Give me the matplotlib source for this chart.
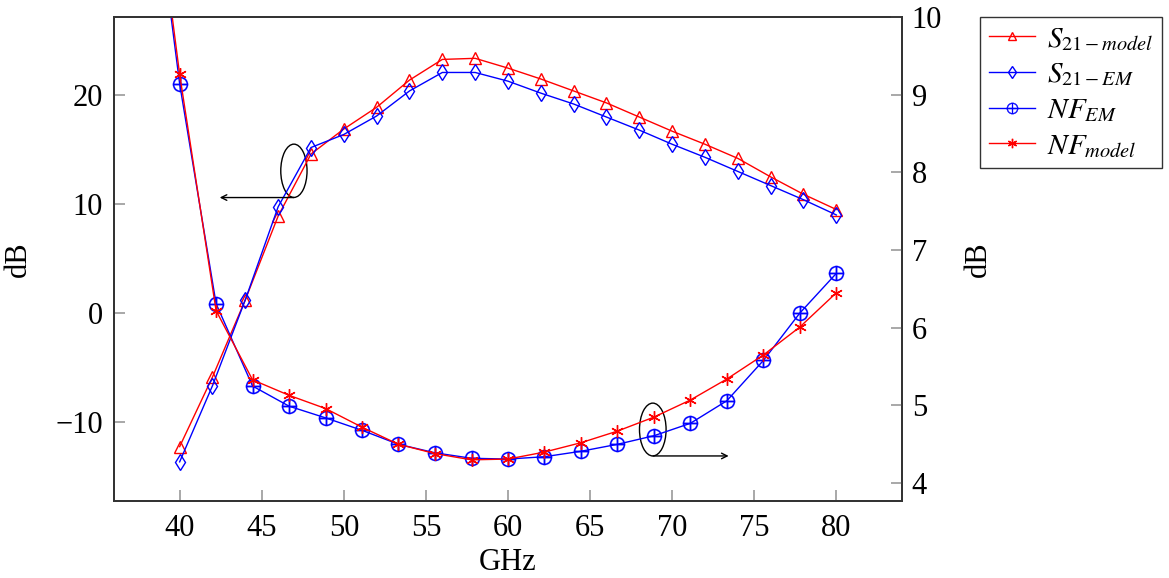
import matplotlib

matplotlib.use("Agg")
import matplotlib.pyplot as plt
from matplotlib.patches import Ellipse

# S21 curves (left axis, dB), sampled every 2 GHz
s21_freq = [40, 42, 44, 46, 48, 50, 52, 54, 56, 58, 60, 62, 64, 66, 68, 70, 72, 74, 76, 78, 80]
s21_model = [-12.3, -5.9, 1.2, 8.9, 14.6, 16.9, 18.9, 21.4, 23.3, 23.4, 22.5, 21.5, 20.4,
             19.3, 18.0, 16.7, 15.5, 14.2, 12.5, 10.9, 9.5]
s21_em = [-13.7, -6.7, 1.2, 9.75, 15.2, 16.4, 18.1, 20.4, 22.1, 22.1, 21.3, 20.2, 19.2,
          18.0, 16.8, 15.5, 14.3, 13.0, 11.7, 10.4, 9.0]

# noise figure curves (right axis, dB); first point lies above the visible range
nf_freq = [37.78, 40.0, 42.22, 44.44, 46.67, 48.89, 51.11, 53.33, 55.56, 57.78, 60.0,
           62.22, 64.44, 66.67, 68.89, 71.11, 73.33, 75.56, 77.78, 80.0]
nf_em = [12.8, 9.14, 6.31, 5.25, 4.99, 4.84, 4.68, 4.50, 4.39, 4.32, 4.31,
         4.34, 4.41, 4.50, 4.61, 4.77, 5.06, 5.58, 6.19, 6.70]
nf_model = [12.9, 9.26, 6.22, 5.33, 5.13, 4.96, 4.72, 4.50, 4.38, 4.30, 4.31,
            4.40, 4.52, 4.67, 4.85, 5.07, 5.34, 5.65, 6.01, 6.45]

RED = "#FF0000"
BLUE = "#0000FF"
SPINE = "#333333"
TICK = "#999999"

plt.rcParams["font.family"] = ["Liberation Serif", "DejaVu Serif"]
plt.rcParams["mathtext.fontset"] = "stix"

fig = plt.figure(figsize=(11.69, 5.78), dpi=100)
ax = fig.add_axes([0.0975, 0.1332, 0.6741, 0.8374])
ax2 = ax.twinx()

l1, = ax.plot(s21_freq, s21_model, color=RED, lw=1.0, marker="^", ms=8, mfc="none", mec=RED, mew=1.0)
l2, = ax.plot(s21_freq, s21_em, color=BLUE, lw=1.0, marker="d", ms=8, mfc="none", mec=BLUE, mew=1.0)
l3, = ax2.plot(nf_freq, nf_em, color=BLUE, lw=1.0, marker="$\\oplus$", ms=11, mec=BLUE, mew=0.2)
l4, = ax2.plot(nf_freq, nf_model, color=RED, lw=1.0, marker=(6, 2, 0), ms=9, mec=RED, mew=1.0)

ax.set_xlim(36, 84)
ax.set_ylim(-17.3, 27.2)
ax2.set_ylim(3.77, 10.0)
ax.set_xticks([40, 45, 50, 55, 60, 65, 70, 75, 80])
ax.set_yticks([-10, 0, 10, 20])
ax.set_yticklabels(["\u221210", "0", "10", "20"])
ax2.set_yticks([4, 5, 6, 7, 8, 9, 10])

for a in (ax, ax2):
    for sp in a.spines.values():
        sp.set_color(SPINE)
        sp.set_linewidth(1.3)
ax.tick_params(axis="both", direction="in", length=8, width=1.2, color=TICK, labelsize=22, pad=8)
ax.tick_params(axis="x", pad=9)
ax2.tick_params(axis="y", direction="in", length=8, width=1.2, color=TICK, labelsize=22, pad=7)

ax.set_xlabel("GHz", fontsize=22, labelpad=4)
ax.set_ylabel("dB", fontsize=22, labelpad=16)
ax2.set_ylabel("dB", fontsize=22, labelpad=16)

# annotations: ellipse + arrow indicating which axis each pair uses
ax.add_patch(Ellipse((46.96, 13.06), 1.6, 4.9, fill=False, ec="black", lw=1.0))
ax.annotate("", xy=(42.44, 10.6), xytext=(46.96, 10.6),
            arrowprops=dict(arrowstyle="->", color="black", lw=1.0, shrinkA=0, shrinkB=0))
ax2.add_patch(Ellipse((68.82, 4.69), 1.62, 0.68, fill=False, ec="black", lw=1.0))
ax2.annotate("", xy=(73.44, 4.35), xytext=(68.84, 4.35),
             arrowprops=dict(arrowstyle="->", color="black", lw=1.0, shrinkA=0, shrinkB=0))

leg = fig.legend([l1, l2, l3, l4],
                 [r"$S_{21-model}$", r"$S_{21-EM}$", r"$NF_{EM}$", r"$NF_{model}$"],
                 loc="upper left", bbox_to_anchor=(980 / 1169, 1 - 17 / 578),
                 borderaxespad=0, fontsize=21, frameon=True, fancybox=False, edgecolor="black",
                 handlelength=1.6, borderpad=0.3, labelspacing=0.3, handletextpad=0.4,
                 markerscale=0.75)
leg.get_frame().set_linewidth(1.0)

fig.savefig("out.png", dpi=100)
